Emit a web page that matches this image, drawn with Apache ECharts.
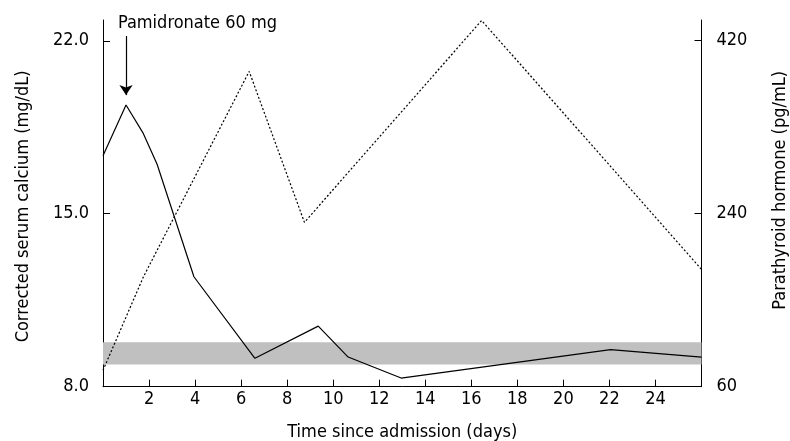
<!DOCTYPE html>
<html>
<head>
<meta charset="utf-8">
<script src="https://cdn.jsdelivr.net/npm/echarts@6/dist/echarts.min.js"></script>
<style>html,body{margin:0;padding:0;background:#fff}#c{width:790px;height:441px}</style>
</head>
<body>
<div id="c"></div>
<script>
// Corrected serum calcium (mg/dL), left axis
const calciumDays   = [0, 1.0, 1.75, 2.35, 3.95, 6.6, 9.35, 10.65, 12.95, 22.05, 26];
const calciumValues = [17.35, 19.4, 18.25, 17.0, 12.45, 9.15, 10.45, 9.2, 8.35, 9.5, 9.2];
// Parathyroid hormone (pg/mL), right axis
const pthDays   = [0, 1.75, 6.35, 8.75, 16.45, 26];
const pthValues = [77, 174, 388, 231, 441, 182];
// Normal calcium range band (mg/dL)
const normalRange = [8.9, 9.8];
// Tick labels
const xTicks = [2, 4, 6, 8, 10, 12, 14, 16, 18, 20, 22, 24];
const leftTicks = [8, 15, 22];
const rightTicks = [60, 240, 420];
// Annotation
const annotationText = 'Pamidronate 60 mg';
const doseDay = 1.0;
const arrowFrom = 22.19, arrowTo = 19.8;
const textDay = 0.65, textLevel = 22.7;

const FONT = '"DejaVu Sans Condensed", "DejaVu Sans"';
const txt = {color: '#000', fontFamily: FONT, fontSize: 18};
const axisLineStyle = {show: true, lineStyle: {color: '#000', width: 1}};

const chart = echarts.init(document.getElementById('c'), null, {renderer: 'canvas'});
chart.setOption({
  animation: false,
  backgroundColor: '#fff',
  grid: {left: 103, right: 88.5, top: 20, bottom: 54.3, containLabel: false, outerBoundsMode: 'none'},
  xAxis: {
    type: 'value', min: 0, max: 26, interval: 2,
    name: 'Time since admission (days)', nameLocation: 'middle', nameGap: 37,
    nameTextStyle: txt,
    axisLine: axisLineStyle,
    axisTick: {show: true, inside: true, length: 7, customValues: xTicks, lineStyle: {color: '#000'}},
    axisLabel: Object.assign({customValues: xTicks, margin: 4}, txt),
    splitLine: {show: false}
  },
  yAxis: [{
    type: 'value', min: 8, max: 22.84, position: 'left',
    name: 'Corrected serum calcium (mg/dL)', nameLocation: 'middle', nameGap: 71,
    nameTextStyle: Object.assign({padding: [0, 6, 0, 0]}, txt),
    axisLine: axisLineStyle,
    axisTick: {show: true, inside: true, length: 7, customValues: leftTicks, lineStyle: {color: '#000'}},
    axisLabel: Object.assign({customValues: leftTicks, margin: 14, formatter: v => v.toFixed(1)}, txt),
    splitLine: {show: false}
  }, {
    type: 'value', min: 60, max: 441.5, position: 'right',
    name: 'Parathyroid hormone (pg/mL)', nameLocation: 'middle', nameGap: 70,
    nameTextStyle: Object.assign({padding: [0, 0, 0, 26]}, txt),
    axisLine: axisLineStyle,
    axisTick: {show: true, inside: true, length: 7, customValues: rightTicks, lineStyle: {color: '#000'}},
    axisLabel: Object.assign({customValues: rightTicks, margin: 15}, txt),
    splitLine: {show: false}
  }],
  series: [{
    type: 'line', yAxisIndex: 0, symbol: 'none',
    data: calciumDays.map((d, i) => [d, calciumValues[i]]),
    lineStyle: {color: '#000', width: 1.2},
    z: 3,
    markArea: {
      silent: true,
      itemStyle: {color: '#c0c0c0'},
      data: [[{yAxis: normalRange[0]}, {yAxis: normalRange[1]}]]
    },
    markLine: {
      silent: true, symbol: ['none', 'arrow'], symbolSize: 10,
      label: {show: false},
      lineStyle: {color: '#000', width: 1.2, type: 'solid'},
      data: [[{coord: [doseDay, arrowFrom]}, {coord: [doseDay, arrowTo]}]]
    },
    markPoint: {
      silent: true, symbol: 'circle', symbolSize: 0,
      label: Object.assign({show: true, position: 'right', distance: 0, formatter: annotationText}, txt),
      data: [{coord: [textDay, textLevel]}]
    }
  }, {
    type: 'line', yAxisIndex: 1, symbol: 'none',
    data: pthDays.map((d, i) => [d, pthValues[i]]),
    lineStyle: {color: '#000', width: 1.2, type: [2, 2]},
    z: 3
  }]
});
</script>
</body>
</html>
